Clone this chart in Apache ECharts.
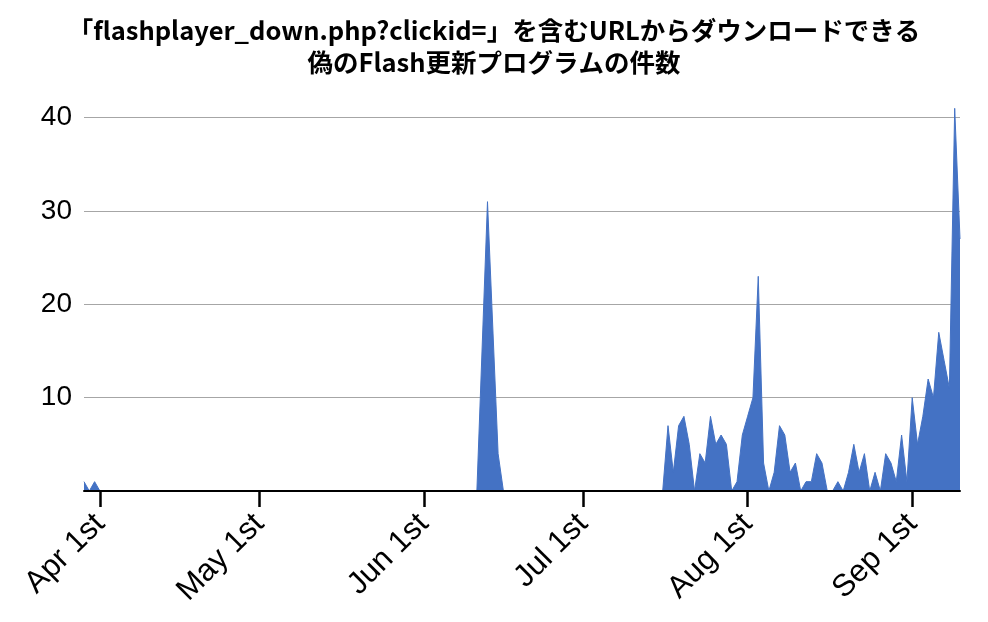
<!DOCTYPE html>
<html>
<head>
<meta charset="utf-8">
<script src="https://cdn.jsdelivr.net/npm/echarts@6/dist/echarts.min.js"></script>
<style>
  html, body { margin: 0; padding: 0; background: #ffffff; }
  #chart { width: 988px; height: 622px; }
</style>
</head>
<body>
<div id="chart"></div>
<script>
// ---- data ----
const titleLines = ['「flashplayer_down.php?clickid=」を含むURLからダウンロードできる', '偽のFlash更新プログラムの件数'];
const year = 2015;
const axisStart = '03-29';
const axisEnd = '09-10';
const tickDates = ['04-01', '05-01', '06-01', '07-01', '08-01', '09-01'];
const tickLabels = ['Apr 1st', 'May 1st', 'Jun 1st', 'Jul 1st', 'Aug 1st', 'Sep 1st'];
const yTickValues = [10, 20, 30, 40];
const dates = [
  '03-29', '03-30', '03-31', '04-01',
  '06-11', '06-13', '06-15', '06-16',
  '07-16', '07-17', '07-18', '07-19', '07-20', '07-21', '07-22', '07-23', '07-24', '07-25',
  '07-26', '07-27', '07-28', '07-29', '07-30', '07-31',
  '08-01', '08-02', '08-03', '08-04', '08-05', '08-06', '08-07', '08-08', '08-09', '08-10',
  '08-11', '08-12', '08-13', '08-14', '08-15', '08-16', '08-17', '08-18', '08-19', '08-20',
  '08-21', '08-22', '08-23', '08-24', '08-25', '08-26', '08-27', '08-28', '08-29', '08-30', '08-31',
  '09-01', '09-02', '09-03', '09-04', '09-05', '09-06', '09-07', '09-08', '09-09', '09-10'
];
const counts = [
  1, 0, 1, 0,
  0, 31, 4, 0,
  0, 7, 2, 7, 8, 5, 0, 4, 3, 8,
  5, 6, 5, 0, 1, 6,
  8, 10, 23, 3, 0, 2, 7, 6, 2, 3,
  0, 1, 1, 4, 3, 0, 0, 1, 0, 2,
  5, 2, 4, 0, 2, 0, 4, 3, 1, 6, 1,
  10, 5, 8, 12, 10, 17, 14, 11, 41, 27
];

// ---- helpers: dates -> day number since axis start (UTC, no DST issues) ----
function dayNum(md) {
  const p = md.split('-');
  return Date.UTC(year, parseInt(p[0], 10) - 1, parseInt(p[1], 10)) / 86400000;
}
const day0 = dayNum(axisStart);
function toDay(md) { return dayNum(md) - day0; }
const tickDays = tickDates.map(toDay);
const seriesData = dates.map((d, i) => [toDay(d), counts[i]]);

const chart = echarts.init(document.getElementById('chart'), null, { renderer: 'canvas' });
chart.setOption({
  backgroundColor: '#ffffff',
  animation: false,
  title: {
    text: titleLines.join('\n'),
    left: 'center',
    top: 9,
    textStyle: {
      fontFamily: '"Noto Sans CJK JP", sans-serif',
      fontWeight: 'bold',
      fontSize: 25.5,
      lineHeight: 32,
      color: '#000000'
    }
  },
  grid: { left: 84, top: 99, width: 876, height: 392, containLabel: false },
  xAxis: {
    type: 'value',
    min: 0,
    max: toDay(axisEnd),
    z: 5,
    axisLine: { show: true, lineStyle: { color: '#000000', width: 2 } },
    axisTick: {
      show: true,
      customValues: tickDays,
      length: 16,
      lineStyle: { color: '#000000', width: 2.5 }
    },
    axisLabel: {
      customValues: tickDays,
      rotate: 45,
      margin: 28,
      fontFamily: '"Liberation Sans", Arial, sans-serif',
      fontSize: 31,
      color: '#000000',
      formatter: function (v) {
        const i = tickDays.indexOf(v);
        return i >= 0 ? tickLabels[i] : '';
      }
    },
    splitLine: { show: false }
  },
  yAxis: {
    type: 'value',
    min: 0,
    max: 42,
    interval: 10,
    axisLine: { show: false },
    axisTick: { show: false },
    axisLabel: {
      margin: 12,
      showMinLabel: false,
      showMaxLabel: false,
      fontFamily: '"Liberation Sans", Arial, sans-serif',
      fontSize: 28,
      color: '#000000',
      formatter: function (v) { return yTickValues.indexOf(v) >= 0 ? String(v) : ''; }
    },
    splitLine: {
      show: true,
      showMinLine: false,
      showMaxLine: false,
      lineStyle: { color: '#a6a6a6', width: 1 }
    }
  },
  series: [{
    type: 'line',
    data: seriesData,
    symbol: 'none',
    smooth: false,
    lineStyle: { color: '#4472c4', width: 1 },
    areaStyle: { color: '#4472c4', opacity: 1 },
    z: 2
  }]
});
</script>
</body>
</html>
